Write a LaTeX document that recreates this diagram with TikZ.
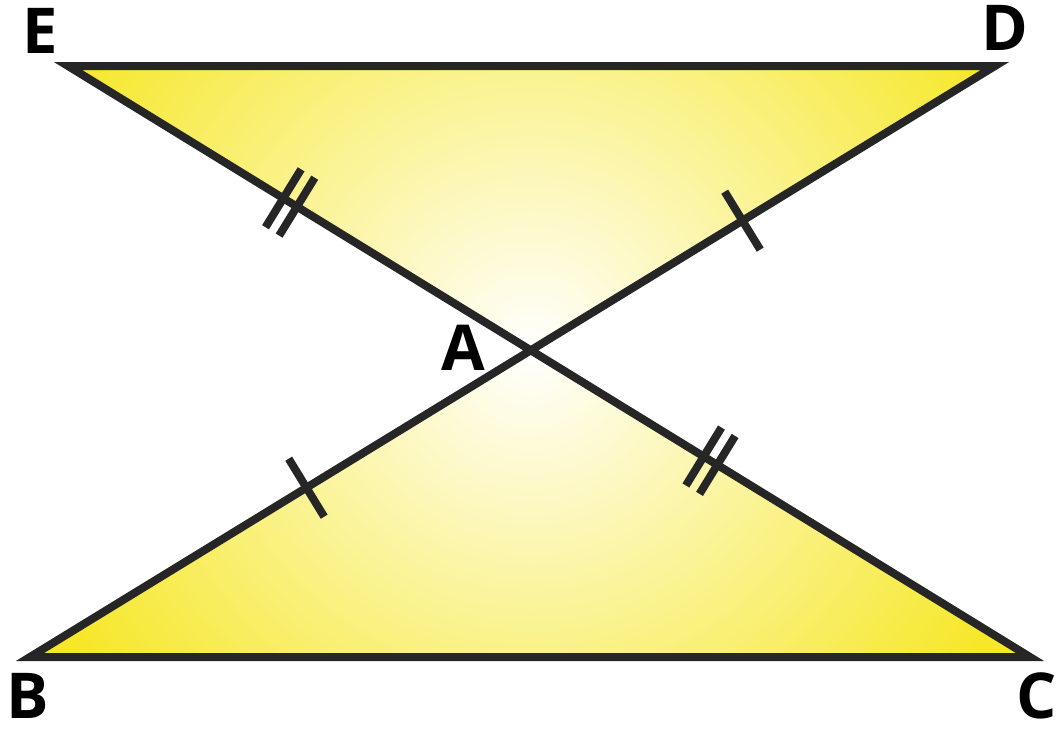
\documentclass[tikz,border=0pt]{standalone}
\usepackage{fontspec}
\setmainfont{Open Sans}
\usepackage{tikz}
\usetikzlibrary{calc,intersections}
\definecolor{edgegray}{RGB}{38,38,38}
\definecolor{fillyellow}{RGB}{246,231,40}

\begin{document}
\begin{tikzpicture}[
		side/.style={line width=0.08cm, edgegray, line join=miter},
		tick/.style={line width=0.08cm, edgegray},
		lbl/.style={inner sep=0pt, font=\fontsize{18}{18}\selectfont\bfseries}
	]
			\useasboundingbox (0,0) rectangle (10.58,7.29);
			\coordinate (E) at (0.68,6.63);
			\coordinate (D) at (9.95,6.63);
			\coordinate (B) at (0.30,0.72);
			\coordinate (C) at (10.30,0.72);
			\path[name path=ec] (E) -- (C);
			\path[name path=db] (D) -- (B);
			\path[name intersections={of=ec and db, by=A}];
			%
			\coordinate (ta) at ($(A)!0.456!(D)$);
			\coordinate (tb) at ($(A)!0.448!(B)$);
			\coordinate (te) at ($(A)!0.52!(E)$);
			\coordinate (tc) at ($(A)!0.36!(C)$);
			\coordinate (te1) at ($(te)!0.08cm!(E)$);
			\coordinate (te2) at ($(te)!-0.08cm!(E)$);
			\coordinate (tc1) at ($(tc)!0.08cm!(C)$);
			\coordinate (tc2) at ($(tc)!-0.08cm!(C)$);
			% yellow fill, pale towards A
			\begin{scope}
				\clip (E) -- (D) -- (B) -- (C) -- cycle;
				\fill[fillyellow] (0,0) rectangle (10.58,7.29);
				\shade[inner color=white, outer color=fillyellow] (A) circle (5.4cm);
			\end{scope}
			\draw[side] (E) -- (D) -- (B) -- (C) -- cycle;
			% equal sides
			\draw[tick] ($(ta)!0.34cm!90:(D)$) -- ($(ta)!0.34cm!-90:(D)$);
			\draw[tick] ($(tb)!0.34cm!90:(B)$) -- ($(tb)!0.34cm!-90:(B)$);
			\draw[tick] ($(te1)!0.34cm!90:(E)$) -- ($(te1)!0.34cm!-90:(E)$);
			\draw[tick] ($(te2)!0.34cm!90:(E)$) -- ($(te2)!0.34cm!-90:(E)$);
			\draw[tick] ($(tc1)!0.34cm!90:(C)$) -- ($(tc1)!0.34cm!-90:(C)$);
			\draw[tick] ($(tc2)!0.34cm!90:(C)$) -- ($(tc2)!0.34cm!-90:(C)$);
			% labels
			\node[lbl] (lE) at (0.40,6.98) {E};
			\node[lbl] (lD) at (10.05,7.01) {D};
			\node[lbl] (lA) at (4.63,3.81) {A};
			\node[lbl] (lB) at (0.28,0.33) {B};
			\node[lbl] (lC) at (10.37,0.33) {C};
		\end{tikzpicture}
\end{document}
